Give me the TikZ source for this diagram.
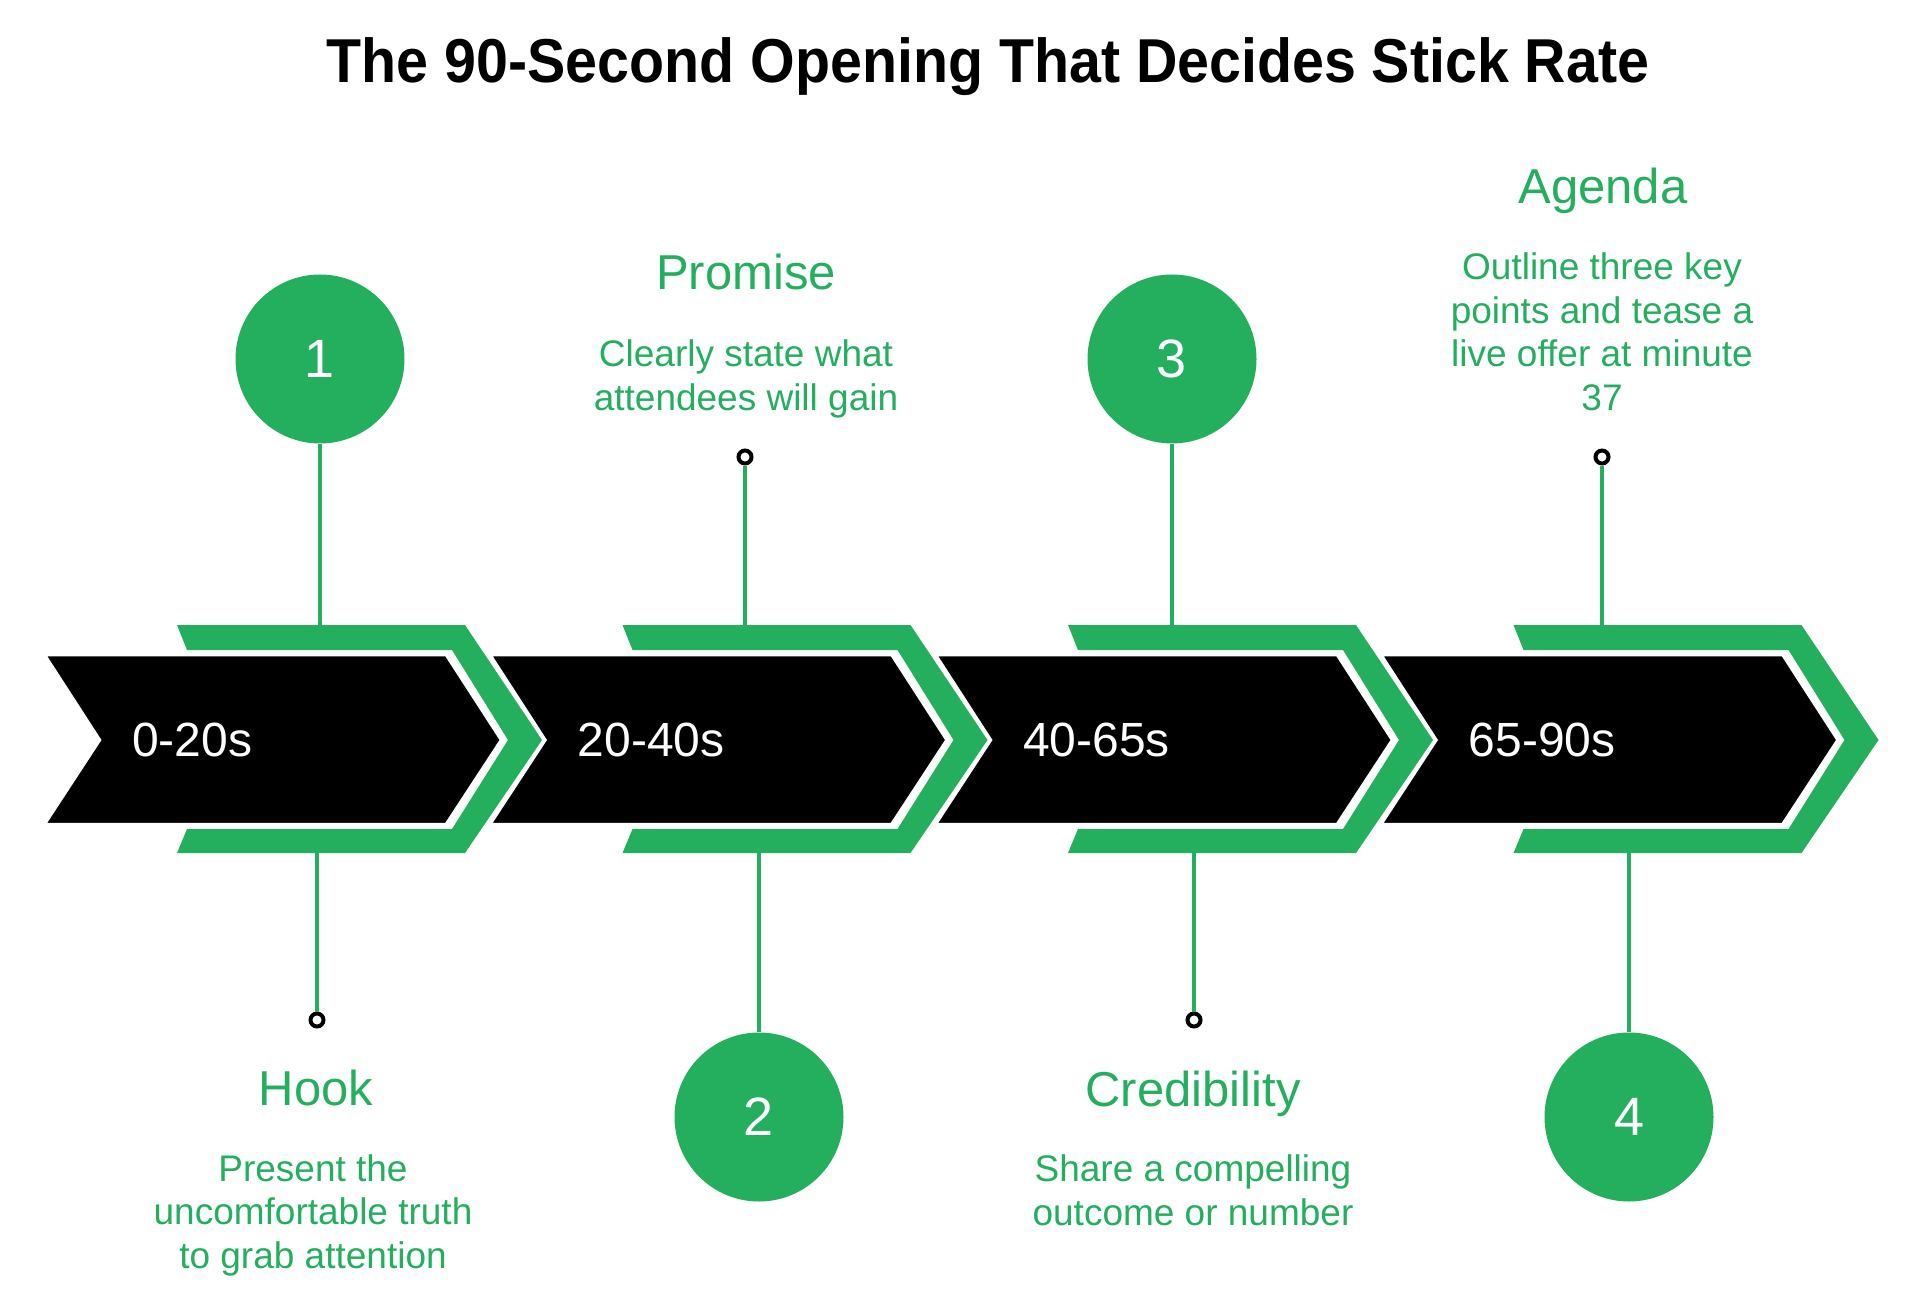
\documentclass[tikz,border=0pt]{standalone}
\usepackage{fontspec}
\setmainfont{Liberation Sans}
\newfontfamily\titlefont{Liberation Sans}[FakeStretch=0.925]
\definecolor{stickgreen}{HTML}{24AF5F}
\begin{document}
\begin{tikzpicture}[x=1pt,y=-1pt,
  numcirc/.style={circle,fill=stickgreen,minimum size=169pt,inner sep=0pt,text=white,font=\fontsize{54}{60}\selectfont},
  pin/.style={circle,draw=black,line width=4pt,fill=white,minimum size=13pt,inner sep=0pt},
  stem/.style={draw=stickgreen,line width=3.5pt},
  head/.style={text=stickgreen,anchor=base,inner sep=0pt,font=\fontsize{49}{56}\selectfont},
  desc/.style={text=stickgreen,anchor=base,align=center,inner sep=0pt,font=\fontsize{37}{43.5}\selectfont},
  seglabel/.style={text=white,anchor=base west,inner sep=0pt,font=\fontsize{48}{54}\selectfont}]
  \useasboundingbox[fill=white] (0,0) rectangle (1920,1313);
  \node[font=\titlefont\bfseries\fontsize{62}{70}\selectfont,anchor=base] (title) at (988,83) {The 90-Second Opening That Decides Stick Rate};
  \node[numcirc] (n1) at (320,359) {1};
  \node[numcirc] (n2) at (759,1117) {2};
  \node[numcirc] (n3) at (1172,359) {3};
  \node[numcirc] (n4) at (1629,1117) {4};
  \node[pin] (p1) at (317,1020) {};
  \node[pin] (p2) at (745,457) {};
  \node[pin] (p3) at (1194,1020) {};
  \node[pin] (p4) at (1602,457) {};
  \coordinate (g1) at (320,630);
  \coordinate (h1) at (317,848);
  \coordinate (g2) at (745,630);
  \coordinate (h2) at (759,848);
  \coordinate (g3) at (1172,630);
  \coordinate (h3) at (1194,848);
  \coordinate (g4) at (1602,630);
  \coordinate (h4) at (1629,848);
  \draw[stem] (n1) -- (g1);
  \draw[stem] (p1) -- (h1);
  \draw[stem] (p2) -- (g2);
  \draw[stem] (n2) -- (h2);
  \draw[stem] (n3) -- (g3);
  \draw[stem] (p3) -- (h3);
  \draw[stem] (p4) -- (g4);
  \draw[stem] (n4) -- (h4);
  \foreach \i/\lab in {0/0-20s,1/20-40s,2/40-65s,3/65-90s}{
    \begin{scope}[xshift=445.5*\i]
      \filldraw[fill=black,draw=white,line width=2.5pt] (45,655) -- (446,655) -- (501,740) -- (446,824) -- (45,824) -- (100,740) -- cycle;
      \fill[stickgreen] (177,625) -- (465,625) -- (542,740) -- (465,853) -- (177,853) -- (187,829) -- (452,829) -- (508,740) -- (452,650) -- (187,650) -- cycle;
      \node[seglabel] (seg\i) at (132,756) {\lab};
    \end{scope}
  }
  \node[head] (hook) at (316,1105) {Hook};
  \node[desc] (hookd) at (313,1268) {Present the\\uncomfortable truth\\to grab attention};
  \node[head] (promise) at (746,290) {Promise};
  \node[desc] (promised) at (746,410) {Clearly state what\\attendees will gain};
  \node[head] (cred) at (1193,1106) {Credibility};
  \node[desc] (credd) at (1193,1225) {Share a compelling\\outcome or number};
  \node[head] (agenda) at (1603,204) {Agenda};
  \node[desc] (agendad) at (1602,410) {Outline three key\\points and tease a\\live offer at minute\\37};
\end{tikzpicture}
\end{document}
